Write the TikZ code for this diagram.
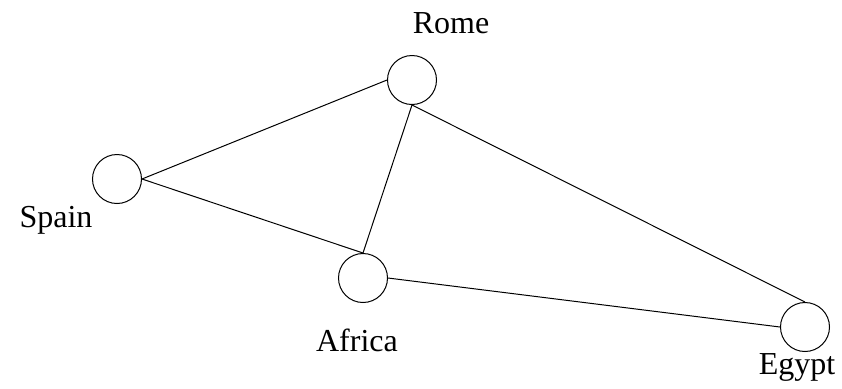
\documentclass[tikz,border=0pt]{standalone}
\usepackage{fontspec}
\setmainfont{Liberation Serif}
\usetikzlibrary{positioning}

\tikzset{
  town/.style={circle, draw, line width=0.5pt, minimum size=24.5pt, inner sep=0pt},
  townname/.style={font=\fontsize{16}{19}\selectfont, anchor=base, inner sep=0pt},
  road/.style={line width=0.5pt}
}

\begin{document}
\begin{tikzpicture}[x=0.5pt, y=-0.5pt]

    \useasboundingbox (0,0) rectangle (842,388);

    % towns
    \node[town] (Rome)   at (412,80)  {};
    \node[town] (Spain)  at (117,179) {};
    \node[town] (Africa) at (363,278) {};
    \node[town] (Egypt)  at (805,327) {};

    % names
    \node[townname] (RomeName)   at (451,33)  {Rome};
    \node[townname] (SpainName)  at (56,227)  {Spain};
    \node[townname] (AfricaName) at (357,351) {Africa};
    \node[townname] (EgyptName)  at (797,374) {Egypt};

    % roads
    \draw[road] (Spain.east) -- (Rome.west);
    \draw[road] (Spain.east) -- (Africa.north);
    \draw[road] (Rome.south) -- (Africa.north);
    \draw[road] (Rome.south) -- (Egypt.north);
    \draw[road] (Africa.east) -- (Egypt.west);

\end{tikzpicture}
\end{document}
